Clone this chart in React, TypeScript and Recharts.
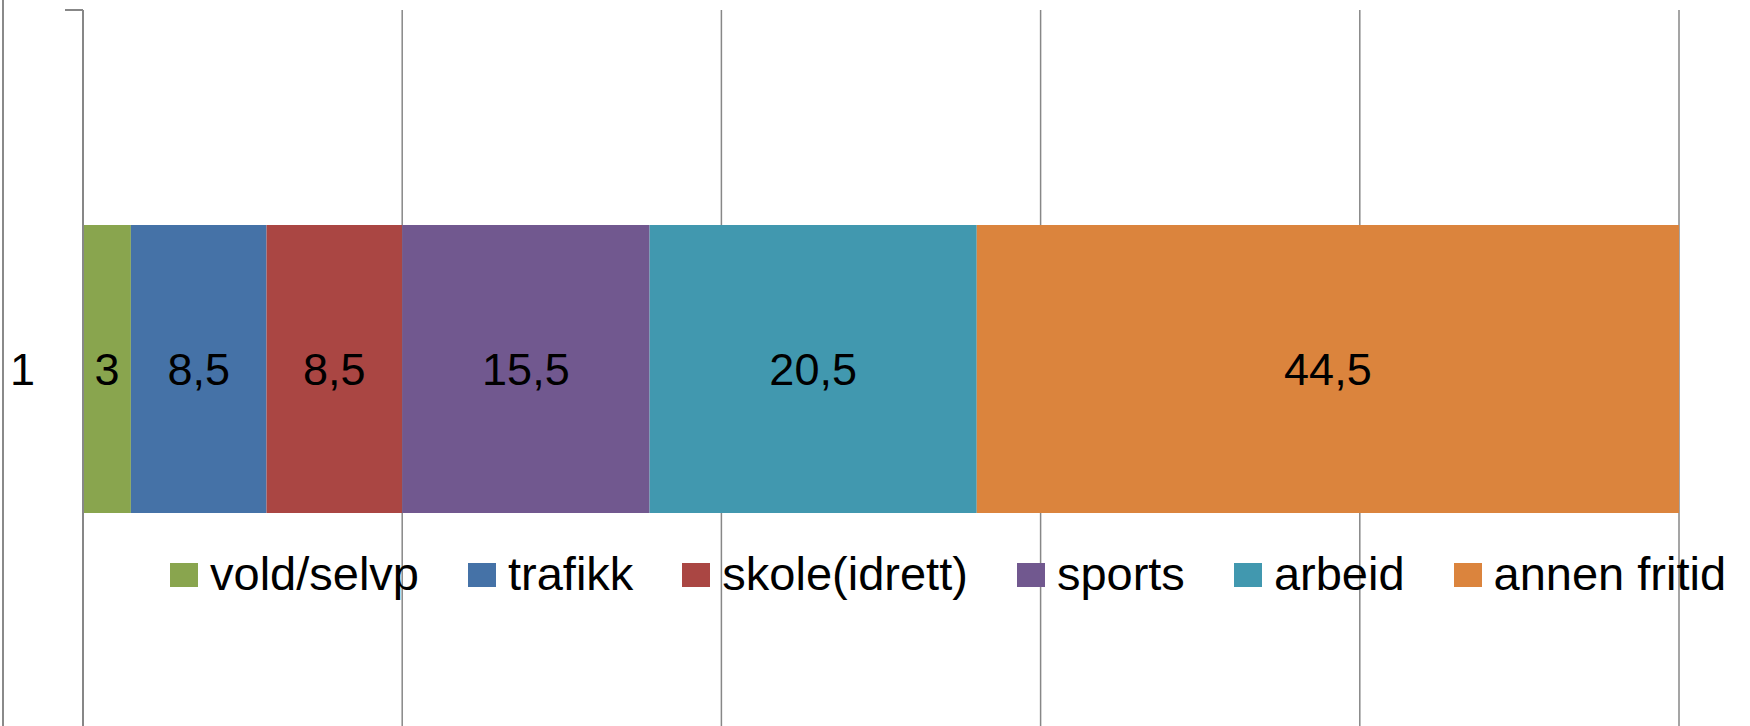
import React from "react";
import { BarChart, Bar, XAxis, YAxis, CartesianGrid, Legend, LabelList } from "recharts";

const categories = ["1"];
const seriesNames = ["vold/selvp", "trafikk", "skole(idrett)", "sports", "arbeid", "annen fritid"];
const seriesValues = [3, 8.5, 8.5, 15.5, 20.5, 44.5];
const seriesColors = ["#89A54E", "#4572A7", "#AA4643", "#71588F", "#4198AF", "#DB843D"];
const xTicks = [0, 20, 40, 60, 80, 100];

const data = categories.map((c) => {
  const row: Record<string, any> = { cat: c };
  seriesNames.forEach((n, i) => {
    row["s" + i] = seriesValues[i];
  });
  return row;
});

const FONT = "'Liberation Sans', Arial, sans-serif";
const AXIS_COLOR = "#878787";
const CHART_H = 730;
const MARGIN = { top: 10, right: 71, bottom: 2, left: 0 };
const PLOT_H = CHART_H - MARGIN.top - MARGIN.bottom;

const fmt = (v: any) => String(v).replace(".", ",");

const CategoryTick = (props: any) => {
  const { x, y, payload, index } = props;
  return (
    <g>
      <text x={x} y={y} dy="0.36em" textAnchor="end" fontSize={45} fontFamily={FONT} fill="#000">
        {payload.value}
      </text>
      {index === 0 && (
        <line x1={x + 30} x2={x + 48} y1={y - PLOT_H / 2} y2={y - PLOT_H / 2} stroke={AXIS_COLOR} strokeWidth={2} />
      )}
    </g>
  );
};

const renderLegend = (props: any) => {
  const payload = [...(props.payload || [])].sort(
    (a: any, b: any) => seriesNames.indexOf(a.value) - seriesNames.indexOf(b.value)
  );
  return (
    <div style={{ display: "flex", alignItems: "center", fontFamily: FONT, fontSize: 47, color: "#000", whiteSpace: "nowrap" }}>
      {payload.map((p: any, i: number) => (
        <div key={i} style={{ display: "flex", alignItems: "center", marginRight: 49 }}>
          <div style={{ width: 28, height: 24, background: p.color, marginRight: 12, marginTop: 3 }} />
          <span>{p.value}</span>
        </div>
      ))}
    </div>
  );
};

export default function App() {
  return (
    <div style={{ position: "absolute", left: 0, top: 0, width: 1750, height: 726, overflow: "hidden", background: "#fff" }}>
      <div style={{ position: "absolute", left: 2, top: 0, width: 2, height: 726, background: "#8a8a8a" }} />
      <BarChart
        width={1750}
        height={CHART_H}
        data={data}
        layout="vertical"
        margin={MARGIN}
        barSize={288}
      >
        <CartesianGrid horizontal={false} vertical={true} stroke={AXIS_COLOR} strokeWidth={1.5} />
        <XAxis type="number" domain={[0, 100]} ticks={xTicks} allowDataOverflow hide />
        <YAxis
          type="category"
          dataKey="cat"
          width={83}
          axisLine={{ stroke: AXIS_COLOR, strokeWidth: 2 }}
          tickLine={false}
          tickSize={0}
          tickMargin={48}
          tick={<CategoryTick />}
        />
        <Legend
          layout="horizontal"
          verticalAlign="middle"
          align="center"
          content={renderLegend}
          wrapperStyle={{ position: "absolute", left: 170, top: 546, width: "auto" }}
        />
        {seriesNames.map((n, i) => (
          <Bar key={n} dataKey={"s" + i} name={n} stackId="a" fill={seriesColors[i]} isAnimationActive={false}>
            <LabelList dataKey={"s" + i} position="center" formatter={fmt} fill="#000" fontSize={45} fontFamily={FONT} />
          </Bar>
        ))}
      </BarChart>
    </div>
  );
}
